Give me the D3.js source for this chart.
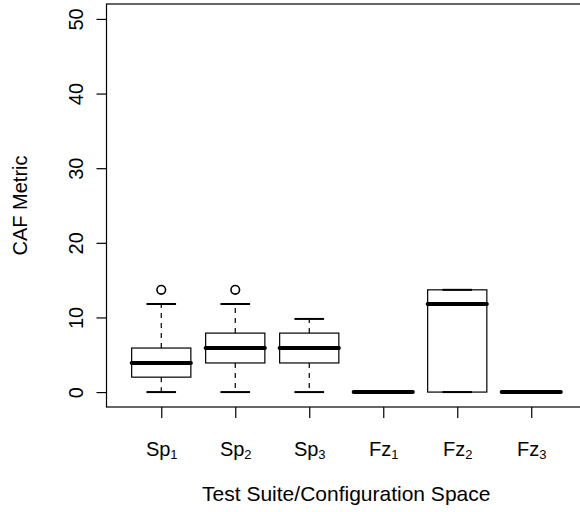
<!DOCTYPE html>
<html>
<head>
<meta charset="utf-8">
<script src="https://cdn.jsdelivr.net/npm/d3@7"></script>
<style>
  html, body { margin: 0; padding: 0; background: #fff; }
  svg { display: block; }
  text { font-family: "Liberation Sans", Arial, Helvetica, sans-serif; fill: #000; }
</style>
</head>
<body>
<svg id="chart" width="580" height="512"></svg>
<script>
// ---- data ----
const labelBase = ["Sp", "Sp", "Sp", "Fz", "Fz", "Fz"];
const labelSub  = ["1", "2", "3", "1", "2", "3"];
const mins      = [0, 0, 0, 0, 0, 0];
const q1s       = [2, 3.9, 3.9, 0, 0, 0];
const medians   = [3.9, 5.9, 5.9, 0, 11.8, 0];
const q3s       = [5.9, 7.9, 7.9, 0, 13.7, 0];
const maxs      = [11.8, 11.8, 9.8, 0, 13.7, 0];
const outliers  = [[13.7], [13.7], [], [], [], []];
const yTicks    = [0, 10, 20, 30, 40, 50];
const xLabel    = "Test Suite/Configuration Space";
const yLabel    = "CAF Metric";

const boxes = labelBase.map((b, i) => ({
  pos: i + 1, base: b, sub: labelSub[i],
  min: mins[i], q1: q1s[i], med: medians[i], q3: q3s[i], max: maxs[i], out: outliers[i]
}));

// ---- layout ----
const svg = d3.select("#chart");
const plot = { left: 106.5, right: 586, top: 4, bottom: 407 };
const x = d3.scaleLinear().domain([0.26, 6.74]).range([plot.left, plot.right]);
const y = d3.scaleLinear().domain([-2, 52]).range([plot.bottom, plot.top]);
const unit = x(2) - x(1);
const boxW = unit * 0.8;
const stapleW = boxW / 2;

const g = svg.append("g");

// boxes
const bx = g.selectAll("g.box").data(boxes).join("g").attr("class", "box");

// whiskers (dashed)
bx.append("line")
  .attr("x1", d => x(d.pos)).attr("x2", d => x(d.pos))
  .attr("y1", d => y(d.q3)).attr("y2", d => y(d.max))
  .attr("stroke", "#000").attr("stroke-width", 1.2).attr("stroke-dasharray", "5,5");
bx.append("line")
  .attr("x1", d => x(d.pos)).attr("x2", d => x(d.pos))
  .attr("y1", d => y(d.q1)).attr("y2", d => y(d.min))
  .attr("stroke", "#000").attr("stroke-width", 1.2).attr("stroke-dasharray", "5,5");

// staples
bx.filter(d => d.max > d.min).append("line")
  .attr("x1", d => x(d.pos) - stapleW / 2).attr("x2", d => x(d.pos) + stapleW / 2)
  .attr("y1", d => y(d.max)).attr("y2", d => y(d.max))
  .attr("stroke", "#000").attr("stroke-width", 2);
bx.filter(d => d.max > d.min).append("line")
  .attr("x1", d => x(d.pos) - stapleW / 2).attr("x2", d => x(d.pos) + stapleW / 2)
  .attr("y1", d => y(d.min)).attr("y2", d => y(d.min))
  .attr("stroke", "#000").attr("stroke-width", 2);

// box rect
bx.filter(d => d.q3 > d.q1).append("rect")
  .attr("x", d => x(d.pos) - boxW / 2).attr("width", boxW)
  .attr("y", d => y(d.q3)).attr("height", d => y(d.q1) - y(d.q3))
  .attr("fill", "none").attr("stroke", "#000").attr("stroke-width", 1.2);

// median
bx.append("line")
  .attr("x1", d => x(d.pos) - boxW / 2).attr("x2", d => x(d.pos) + boxW / 2)
  .attr("y1", d => y(d.med)).attr("y2", d => y(d.med))
  .attr("stroke", "#000").attr("stroke-width", 4).attr("stroke-linecap", "round");

// outliers
bx.selectAll("circle").data(d => d.out.map(v => ({ pos: d.pos, v }))).join("circle")
  .attr("cx", d => x(d.pos)).attr("cy", d => y(d.v)).attr("r", 4.3)
  .attr("fill", "none").attr("stroke", "#000").attr("stroke-width", 1.6);

// frame
g.append("rect")
  .attr("x", plot.left).attr("y", plot.top)
  .attr("width", plot.right - plot.left).attr("height", plot.bottom - plot.top)
  .attr("fill", "none").attr("stroke", "#000").attr("stroke-width", 1.2);

// y axis
const yAxis = d3.axisLeft(y).tickValues(yTicks).tickSize(10).tickPadding(0).tickFormat(d3.format("d"));
const ya = svg.append("g").attr("transform", `translate(${plot.left},0)`).call(yAxis);
ya.select(".domain").remove();
ya.selectAll(".tick line").attr("stroke", "#000").attr("stroke-width", 1.2);
ya.selectAll(".tick text")
  .attr("x", null).attr("dy", null)
  .attr("text-anchor", "middle")
  .attr("transform", "translate(-24,0) rotate(-90)")
  .style("font-size", "20px");

// x axis
const xAxis = d3.axisBottom(x).tickValues(boxes.map(d => d.pos)).tickSize(11).tickFormat("");
const xa = svg.append("g").attr("transform", `translate(0,${plot.bottom})`).call(xAxis);
xa.select(".domain").remove();
xa.selectAll(".tick line").attr("stroke", "#000").attr("stroke-width", 1.2);
xa.selectAll(".tick text").remove();
const lab = xa.selectAll(".tick").data(boxes).append("text")
  .attr("y", 49).attr("text-anchor", "middle").style("font-size", "20px");
lab.append("tspan").text(d => d.base);
lab.append("tspan").attr("dy", 3).style("font-size", "13px").text(d => d.sub);

// axis titles
svg.append("text")
  .attr("x", (plot.left + plot.right) / 2).attr("y", 501)
  .attr("text-anchor", "middle").style("font-size", "21px").text(xLabel);
svg.append("text")
  .attr("transform", `translate(27,${(plot.top + plot.bottom) / 2}) rotate(-90)`)
  .attr("text-anchor", "middle").style("font-size", "20px").text(yLabel);
</script>
</body>
</html>
